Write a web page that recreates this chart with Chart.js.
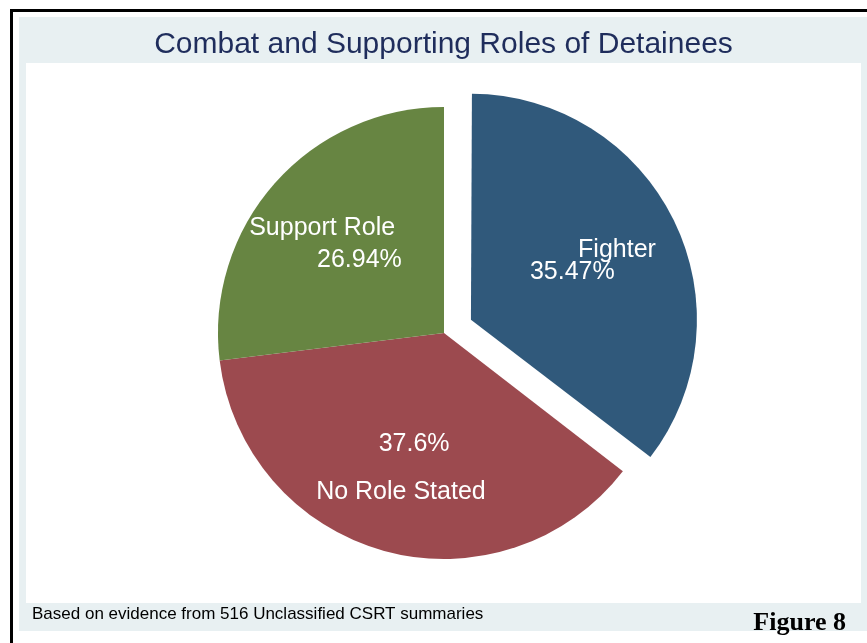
<!DOCTYPE html>
<html>
<head>
<meta charset="utf-8">
<script src="https://cdn.jsdelivr.net/npm/chart.js@4.4.1/dist/chart.umd.min.js"></script>
<style>
  html, body { margin: 0; padding: 0; background: #ffffff; }
  #wrap { width: 867px; height: 643px; position: relative; }
</style>
</head>
<body>
<div id="wrap"><canvas id="c" width="867" height="643"></canvas></div>
<script>
// ---- data ----
const categories = ['Fighter', 'No Role Stated', 'Support Role'];
const percentages = [35.47, 37.6, 26.94];
const percentLabels = ['35.47%', '37.6%', '26.94%'];
const titleText = 'Combat and Supporting Roles of Detainees';
const noteText = 'Based on evidence from 516 Unclassified CSRT summaries';
const figureText = 'Figure 8';

// ---- styles ----
const sliceColors = ['#30597b', '#9c4a4f', '#678542'];
const explodedIndex = 0;
const explodePx = 30;          // visual translation of the exploded slice
const pieRadius = 226;

const framePlugin = {
  id: 'frame',
  beforeDraw(chart) {
    const ctx = chart.ctx;
    const W = chart.width, H = chart.height;
    ctx.save();
    ctx.fillStyle = '#ffffff';
    ctx.fillRect(0, 0, W, H);
    // outer black frame (top + left visible)
    ctx.fillStyle = '#000000';
    ctx.fillRect(10, 9, W - 10, 3);
    ctx.fillRect(10, 9, 3, H - 9);
    // light graph region
    ctx.fillStyle = '#e8f0f2';
    ctx.fillRect(19, 17, W - 19, 631 - 17);
    // white plot region
    ctx.fillStyle = '#ffffff';
    ctx.fillRect(26, 63, 861 - 26, 603 - 63);
    ctx.restore();
  },
  afterDraw(chart) {
    const ctx = chart.ctx;
    ctx.save();
    ctx.textBaseline = 'alphabetic';
    ctx.fillStyle = '#1f2d5c';
    ctx.font = '30px "Liberation Sans", Arial, sans-serif';
    ctx.textAlign = 'center';
    ctx.fillText(titleText, 443.5, 52.5);
    ctx.fillStyle = '#000000';
    ctx.font = '17px "Liberation Sans", Arial, sans-serif';
    ctx.textAlign = 'left';
    ctx.fillText(noteText, 32, 619);
    ctx.font = 'bold 26px "Liberation Serif", "Times New Roman", serif';
    ctx.textAlign = 'right';
    ctx.fillText(figureText, 846, 630);
    ctx.restore();
  }
};

// keep exploded slice the same radius as the others (Chart.js enlarges offset arcs slightly)
const radiusFixPlugin = {
  id: 'radiusFix',
  afterDatasetsUpdate(chart) {
    const meta = chart.getDatasetMeta(0);
    meta.data.forEach((arc) => {
      const off = ((arc.options && arc.options.offset) || 0) / 4;
      const fix = 1 - Math.sin(Math.min(Math.PI, arc.circumference || 0));
      arc.outerRadius = pieRadius - off * fix;
    });
  }
};

const sliceLabelPlugin = {
  id: 'sliceLabels',
  afterDatasetsDraw(chart) {
    const ctx = chart.ctx;
    const meta = chart.getDatasetMeta(0);
    ctx.save();
    ctx.fillStyle = '#ffffff';
    ctx.font = '25px "Liberation Sans", Arial, sans-serif';
    ctx.textAlign = 'center';
    ctx.textBaseline = 'middle';
    const dy = 2.5;
    meta.data.forEach((arc, i) => {
      const mid = (arc.startAngle + arc.endAngle) / 2;
      const off = ((arc.options && arc.options.offset) || 0) / 4;
      const cx = arc.x + Math.cos(mid) * off;
      const cy = arc.y + Math.sin(mid) * off;
      const r1 = pieRadius * 0.5;
      const r2 = pieRadius * 0.72;
      ctx.fillText(percentLabels[i], cx + Math.cos(mid) * r1, cy + Math.sin(mid) * r1 + dy);
      ctx.fillText(categories[i], cx + Math.cos(mid) * r2, cy + Math.sin(mid) * r2 + dy);
    });
    ctx.restore();
  }
};

new Chart(document.getElementById('c'), {
  type: 'pie',
  data: {
    labels: categories,
    datasets: [{
      data: percentages,
      backgroundColor: sliceColors,
      borderWidth: 0,
      offset: (ctx) => (ctx.dataIndex === explodedIndex ? explodePx * 4 : 0),
      hoverOffset: 0
    }]
  },
  options: {
    responsive: false,
    animation: false,
    events: [],
    radius: pieRadius,
    layout: { padding: { left: 121, right: 100, top: 100, bottom: 77 } },
    plugins: {
      legend: { display: false },
      tooltip: { enabled: false },
      title: { display: false }
    }
  },
  plugins: [framePlugin, radiusFixPlugin, sliceLabelPlugin]
});
</script>
</body>
</html>
